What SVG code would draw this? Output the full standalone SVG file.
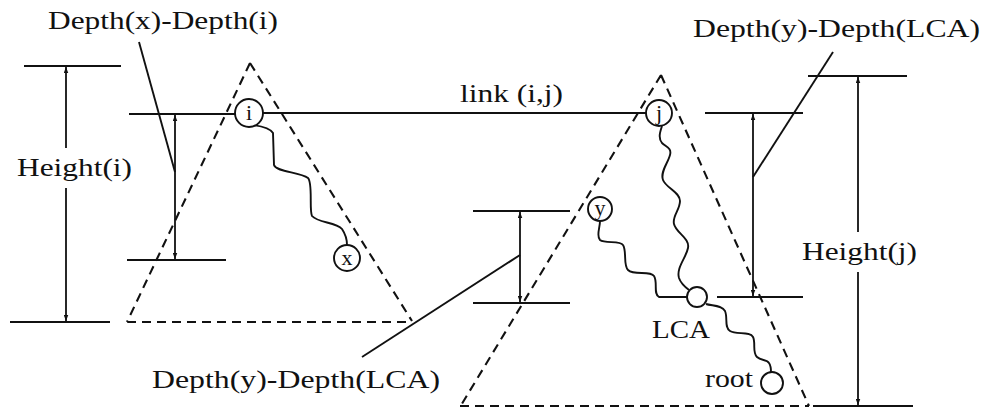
<svg xmlns="http://www.w3.org/2000/svg" width="983" height="411" viewBox="0 0 983 411">
<style>
  text { font-family: "Liberation Serif", "Times New Roman", serif; fill: #111; }
  .lbl { font-size: 26px; }
  .nl { font-size: 22px; text-anchor: middle; }
  .ln { stroke: #111; stroke-width: 1.9; fill: none; }
  .dash { stroke: #111; stroke-width: 2.1; fill: none; stroke-dasharray: 9 6; }
  .nd { stroke: #111; stroke-width: 1.9; fill: #fff; }
  .dim1 { stroke: #111; stroke-width: 1.8; fill: none; marker-end: url(#ar); }
  .dim2 { stroke: #111; stroke-width: 1.8; fill: none; marker-start: url(#ar); marker-end: url(#ar); }
</style>
<defs>
  <marker id="ar" viewBox="0 0 8 6" refX="8" refY="3" markerWidth="6" markerHeight="5" orient="auto-start-reverse" markerUnits="userSpaceOnUse">
    <path d="M0,0 L8,3 L0,6 z" fill="#111"/>
  </marker>
</defs>
<rect width="983" height="411" fill="#fff"/>

<g id="tree-i">
  <path class="dash" d="M250,63 L127,322 M250,63 L412,321 M127,322 L412,322"/>
</g>
<g id="tree-j">
  <path class="dash" d="M661,75 L460,407 M661,75 L809,406 M460,406 L809,406"/>
</g>

<g id="dim-height-i">
  <path class="ln" d="M24,66 L121,66 M10,322 L110,322"/>
  <path class="dim1" d="M66,148 L66,67"/>
  <path class="dim1" d="M66,188 L66,321"/>
  <text class="lbl" x="17" y="176" textLength="115" lengthAdjust="spacingAndGlyphs">Height(i)</text>
</g>
<g id="dim-depth-x">
  <path class="ln" d="M127,260 L226,260"/>
  <path class="dim2" d="M175,115 L175,259"/>
  <path class="ln" d="M139,42 L175,172"/>
  <text class="lbl" x="48" y="29" textLength="230" lengthAdjust="spacingAndGlyphs">Depth(x)-Depth(i)</text>
</g>
<g id="dim-depth-y-left">
  <path class="ln" d="M473,211 L570,211 M473,303 L570,303"/>
  <path class="dim2" d="M520,212 L520,302"/>
  <path class="ln" d="M362,357 L520,255"/>
  <text class="lbl" x="152" y="388" textLength="288" lengthAdjust="spacingAndGlyphs">Depth(y)-Depth(LCA)</text>
</g>
<g id="dim-depth-y-right">
  <path class="ln" d="M705,113 L803,113 M717,297 L803,297"/>
  <path class="dim2" d="M753,114 L753,296"/>
  <path class="ln" d="M833,52 L753,177"/>
  <text class="lbl" x="693" y="37" textLength="287" lengthAdjust="spacingAndGlyphs">Depth(y)-Depth(LCA)</text>
</g>
<g id="dim-height-j">
  <path class="ln" d="M808,76 L907,76 M813,406 L913,406"/>
  <path class="dim1" d="M858,232 L858,77"/>
  <path class="dim1" d="M858,272 L858,405"/>
  <text class="lbl" x="802" y="260" textLength="115" lengthAdjust="spacingAndGlyphs">Height(j)</text>
</g>

<g id="connectors">
  <path class="ln" d="M129,114 L235,114"/>
  <path class="ln" d="M263,113 L646,113"/>
  <text class="lbl" x="460" y="102" textLength="103" lengthAdjust="spacingAndGlyphs">link (i,j)</text>
  <path class="ln" d="M253,125 C260,126 270,128 273,133 L274,165 C276,172 300,172 308,178 C313,183 309,210 312,216 C318,223 336,222 342,229 C346,235 347,240 347,245"/>
  <path class="ln" d="M662,126 C660,132 658,138 662,143 C666,147 672,148 670,155 C668,163 660,172 663,180 C666,188 680,192 680,201 C680,210 672,216 674,224 C676,233 690,238 688,248 C686,258 676,268 679,278 C681,284 685,287 689,290"/>
  <path class="ln" d="M600,221 C600,228 596,236 600,240 C605,244 620,240 623,245 C627,251 623,265 628,270 C634,276 650,270 654,276 C658,282 653,294 659,297 L687,297"/>
  <path class="ln" d="M706,304 C712,306 722,305 725,311 C728,318 724,327 730,331 C736,335 750,331 753,337 C756,343 752,352 757,357 C761,361 767,359 769,363 C771,366 771,369 771,372"/>
</g>

<g id="node-i"><circle class="nd" cx="249" cy="113" r="14"/><text class="nl" x="249" y="120">i</text></g>
<g id="node-j"><circle class="nd" cx="659" cy="113" r="13"/><text class="nl" x="659" y="120">j</text></g>
<g id="node-x"><circle class="nd" cx="347" cy="258" r="13"/><text class="nl" x="347" y="265">x</text></g>
<g id="node-y"><circle class="nd" cx="600" cy="209" r="12"/><text class="nl" x="600" y="215">y</text></g>
<g id="node-lca"><circle class="nd" cx="697" cy="297" r="10"/><text class="lbl" x="652" y="338" textLength="58" lengthAdjust="spacingAndGlyphs">LCA</text></g>
<g id="node-root"><circle class="nd" cx="772" cy="383" r="11"/><text class="lbl" x="705" y="387" textLength="48" lengthAdjust="spacingAndGlyphs">root</text></g>
</svg>
